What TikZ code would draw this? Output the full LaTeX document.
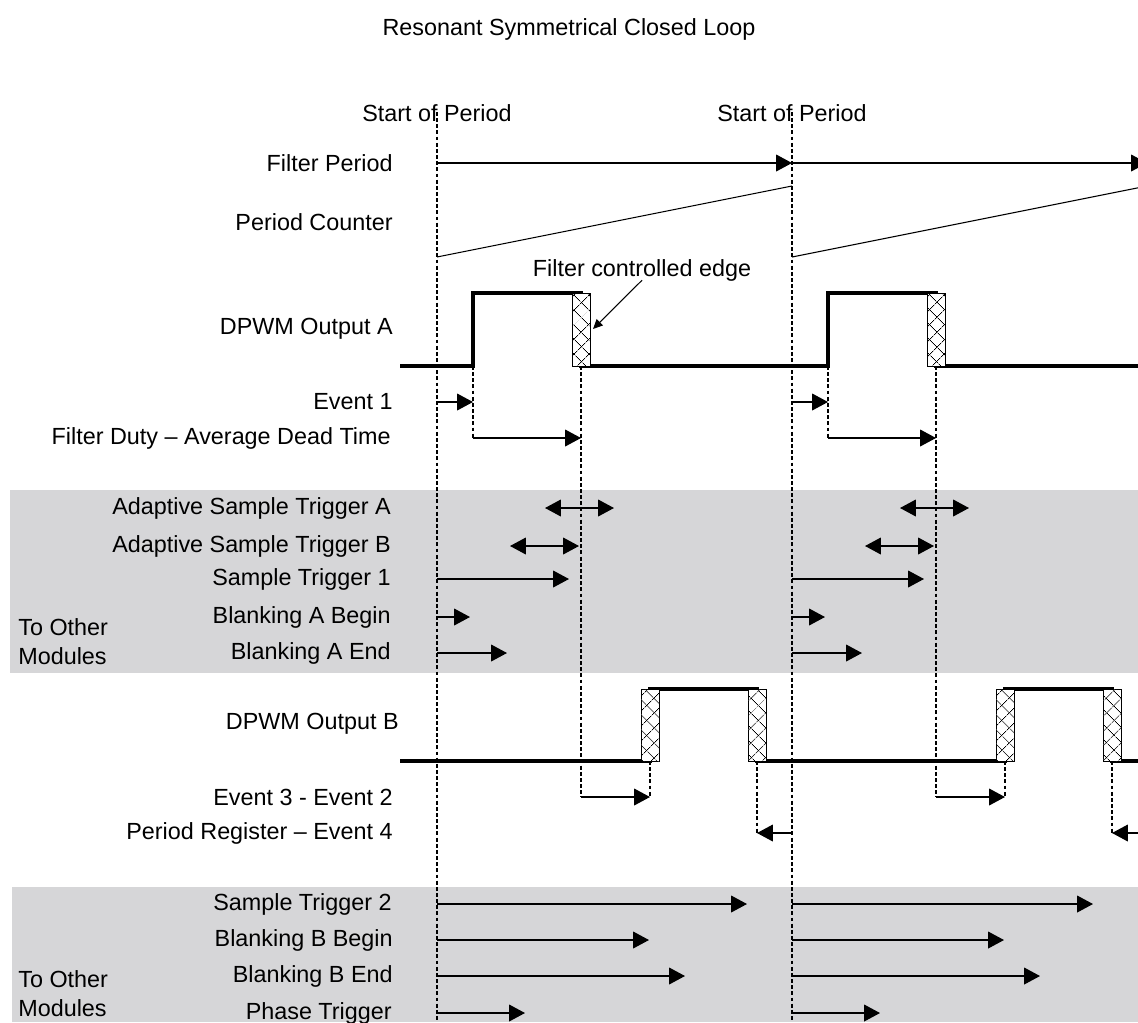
\documentclass[tikz,border=0pt]{standalone}
\usepackage{fontspec}
\setmainfont{Liberation Sans}
\usetikzlibrary{arrows.meta,calc,patterns.meta}
\definecolor{bandgray}{RGB}{214,214,216}
\tikzset{
  lbl/.style={anchor=east, inner sep=0pt},
  sig/.style={line width=1.9pt},
  thinline/.style={line width=0.6pt},
  arr/.style={line width=0.7pt, -{Triangle[length=9pt,width=9.5pt]}},
  darr/.style={line width=0.7pt, {Triangle[length=9pt,width=9.5pt]}-{Triangle[length=9pt,width=9.5pt]}},
  guide/.style={line width=0.6pt, dash pattern=on 2.2pt off 1.3pt},
  hatch/.style={draw, line width=0.5pt, fill=white,
    postaction={pattern={Lines[angle=45,distance=6.5pt,line width=0.45pt]}},
    postaction={pattern={Lines[angle=-45,distance=6.5pt,line width=0.45pt]}}},
}
\begin{document}
\begin{tikzpicture}[x=0.02cm, y=-0.02cm, font=\fontsize{13.3}{16.4}\selectfont]
  \clip (0,0) rectangle (1138,1022);
  % shaded bands
  \fill[bandgray] (10,490) rectangle (1138,673);
  \fill[bandgray] (12,887) rectangle (1138,1022);
  \node (title) at (569,29) {Resonant Symmetrical Closed Loop};
  % row labels
  \node[lbl] (lFP) at (393,163) {Filter Period};
  \node[lbl] (lPC) at (393,222) {Period Counter};
  \node[lbl] (lDA) at (393,329) {DPWM Output A};
  \node[lbl] (lE1) at (393,402) {Event 1};
  \node[lbl] (lFD) at (391,438) {Filter Duty -- Average Dead Time};
  \node[lbl] (lASA) at (391,508) {Adaptive Sample Trigger A};
  \node[lbl] (lASB) at (391,546) {Adaptive Sample Trigger B};
  \node[lbl] (lST1) at (391,579) {Sample Trigger 1};
  \node[lbl] (lBAB) at (391,617) {Blanking A Begin};
  \node[lbl] (lBAE) at (391,653) {Blanking A End};
  \node[lbl] (lDB) at (399,724) {DPWM Output B};
  \node[lbl] (lE32) at (393,797) {Event 3 - Event 2};
  \node[lbl] (lPR) at (393,833) {Period Register -- Event 4};
  \node[lbl] (lST2) at (392,904) {Sample Trigger 2};
  \node[lbl] (lBBB) at (393,940) {Blanking B Begin};
  \node[lbl] (lBBE) at (393,976) {Blanking B End};
  \node[lbl] (lPT) at (392,1013) {Phase Trigger};
  \node[align=left, anchor=west, inner sep=0pt] (toA) at (18,642) {To Other\\Modules};
  \node[align=left, anchor=west, inner sep=0pt] (toB) at (18,994) {To Other\\Modules};
  % signal levels
  \coordinate (aHi) at (0,293); \coordinate (aLo) at (0,366);
  \coordinate (bHi) at (0,689); \coordinate (bLo) at (0,761);
  \coordinate (pcHi) at (0,186); \coordinate (pcLo) at (0,257);
  \coordinate (bot) at (0,1022);
  % edges in each period
  \foreach \i/\s in {1/0,2/355}{
    \coordinate (t\i) at (437+\s,112);
    \coordinate (ra\i) at (473+\s,0);
    \coordinate (fa\i) at (581+\s,0);
    \coordinate (rb\i) at (650+\s,0);
    \coordinate (fb\i) at (757+\s,0);
  }
  \coordinate (t3) at (1147,112);
  \foreach \i/\j/\st in {1/2/310,2/3/301}{
    \node (sop\i) at (t\i|-0,113) {Start of Period};
    \draw[guide] (t\i) -- (t\i|-bot);
    \draw[guide] (ra\i|-aLo) -- (ra\i|-lFD);
    \draw[guide] (fa\i|-aLo) -- (fa\i|-lE32);
    \draw[guide] (rb\i|-bLo) -- (rb\i|-lE32);
    \draw[guide] (fb\i|-bLo) -- (fb\i|-lPR);
    \draw[arr] (t\i|-lFP) -- (t\j|-lFP);
    \draw[thinline] (t\i|-pcLo) -- (t\j|-pcHi);
    \draw[arr] (t\i|-lE1) -- (ra\i|-lE1);
    \draw[arr] (ra\i|-lFD) -- (fa\i|-lFD);
    \draw[darr] ($(fa\i|-lASA)+(-36,0)$) -- ($(fa\i|-lASA)+(33,0)$);
    \draw[darr] ($(fa\i|-lASB)+(-71,0)$) -- ($(fa\i|-lASB)+(-2,0)$);
    \draw[arr] (t\i|-lST1) -- +(132,0);
    \draw[arr] (t\i|-lBAB) -- +(33,0);
    \draw[arr] (t\i|-lBAE) -- +(70,0);
    \draw[arr] (fa\i|-lE32) -- (rb\i|-lE32);
    \draw[arr] (t\j|-lPR) -- (fb\i|-lPR);
    \draw[arr] (t\i|-lST2) -- +(\st,0);
    \draw[arr] (t\i|-lBBB) -- +(212,0);
    \draw[arr] (t\i|-lBBE) -- +(248,0);
    \draw[arr] (t\i|-lPT) -- +(88,0);
  }
  % DPWM outputs
  \draw[sig] (400,366) -| (ra1|-aHi) -| (fa1|-aLo) -| (ra2|-aHi) -| (fa2|-aLo) -- (1138,366);
  \draw[sig] (400,761) -| (rb1|-bHi) -| (fb1|-bLo) -| (rb2|-bHi) -| (fb2|-bLo) -- (1138,761);
  \foreach \i in {1,2}{
    \path[hatch] ($(fa\i|-aHi)+(-9,0)$) rectangle ($(fa\i|-aLo)+(9,0)$);
    \path[hatch] ($(rb\i|-bHi)+(-9,0)$) rectangle ($(rb\i|-bLo)+(9,0)$);
    \path[hatch] ($(fb\i|-bHi)+(-9,0)$) rectangle ($(fb\i|-bLo)+(9,0)$);
  }
  % callout
  \node[inner sep=0pt] (fce) at (642,270) {Filter controlled edge};
  \coordinate (fceTip) at ($(fa1|-lDA)+(12,0)$);
  \draw[line width=0.6pt, -{Triangle[length=5.5pt,width=5pt]}] (fce.south) ++(0,-1) -- (fceTip);
\end{tikzpicture}
\end{document}
